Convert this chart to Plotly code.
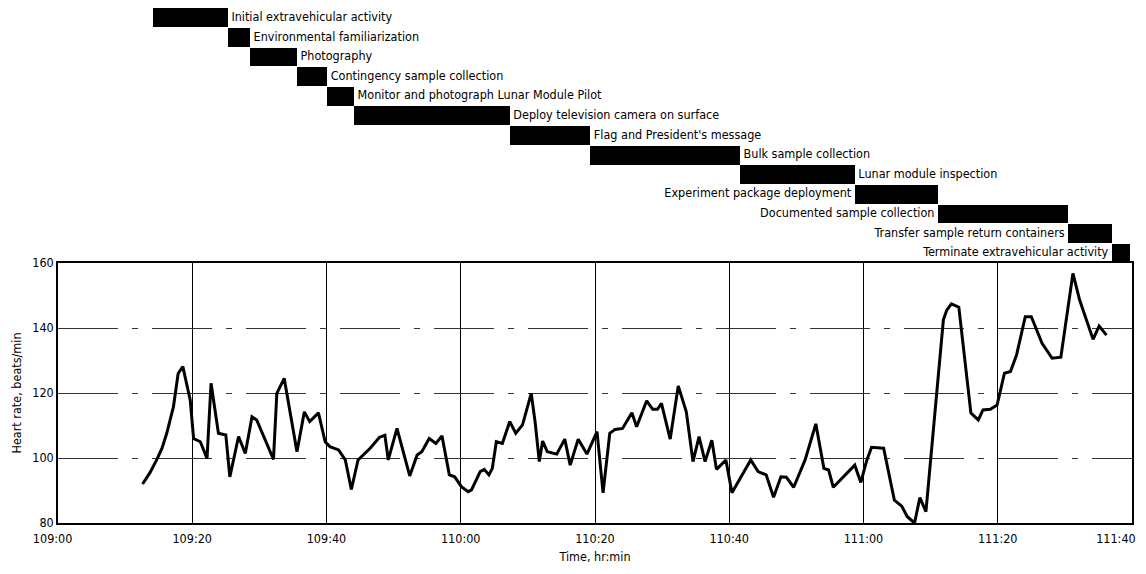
import plotly.graph_objects as go

# ---- Heart rate data (minutes after 109:00, beats/min) ----
minutes = [12.6, 13.7, 14.7, 15.5, 16.2, 17.2, 17.9, 18.6, 19.7, 20.2, 21.2, 22.2, 22.8, 23.9,
           25.0, 25.6, 26.9, 27.9, 28.9, 29.6, 32.1, 32.6, 33.7, 35.6, 36.7, 37.5, 38.8, 39.8,
           40.5, 41.8, 42.8, 43.7, 44.7, 46.5, 47.9, 48.7, 49.2, 50.5, 52.4, 53.5, 54.2, 55.3,
           56.3, 57.2, 58.3, 59.1, 60.1, 61.1, 61.6, 62.9, 63.5, 64.2, 64.7, 65.3, 66.2, 67.3,
           68.2, 69.2, 70.5, 71.1, 71.7, 72.2, 72.9, 74.3, 75.5, 76.3, 77.5, 78.8, 80.3, 81.2,
           82.2, 83.0, 84.1, 85.5, 86.2, 87.7, 88.6, 89.3, 89.9, 91.2, 92.4, 93.6, 94.6, 95.5,
           96.4, 97.4, 98.1, 99.5, 100.4, 103.2, 104.3, 105.5, 106.6, 107.7, 108.5, 109.6, 111.3,
           112.9, 114.1, 114.8, 115.5, 118.7, 119.6, 120.5, 121.2, 123.0, 124.6, 125.7, 126.5,
           127.6, 128.4, 129.3, 131.9, 132.4, 133.1, 134.2, 136.0, 137.1, 137.8, 138.9, 139.9,
           141.0, 141.9, 142.8, 144.1, 145.0, 146.6, 148.1, 149.4, 151.2, 152.2, 154.2, 155.1,
           156.2]
heart_rate = [92, 95.5, 99.4, 103, 107.6, 115.8, 126, 128.1, 117.8, 106, 105, 99.9, 123, 107.6,
              107.1, 94.2, 106.6, 101.4, 112.7, 111.7, 99.6, 119.9, 124.5, 101.9, 114.2, 111.2, 113.9, 105,
              103.5, 102.5, 99.4, 90.3, 99.4, 103, 106.4, 107, 99.4, 109.1, 94.5, 100.9, 101.9, 106,
              104.5, 106.8, 94.8, 94.2, 91.2, 89.6, 90.2, 95.8, 96.5, 94.8, 96.8, 105, 104.5, 111.2,
              107.6, 110.2, 119.9, 110.7, 98.9, 105.2, 101.9, 101.2, 105.8, 97.8, 105.8, 101.2, 108.1, 89.3,
              107.6, 108.8, 109.1, 113.9, 109.6, 117.6, 115, 115, 116.8, 105.8, 122.2, 114.2, 98.9, 106.6,
              98.9, 105.5, 96.5, 99.4, 89.3, 99.4, 95.8, 94.8, 87.9, 94.2, 94.1, 91, 99.4,
              110.5, 96.8, 96.3, 91, 97.8, 92.5, 99.4, 103.3, 103, 87, 85.2, 82,
              80, 87.8, 83.5, 142.5, 145.5, 147.4, 146.4, 113.8, 111.7, 114.8, 115, 116.3,
              126.1, 126.6, 131.7, 143.5, 143.5, 135.3, 130.7, 131, 156.8, 148.6, 136.5, 140.6,
              137.8]

# ---- Activity timeline (minutes after 109:00) ----
activities = ["Initial extravehicular activity", "Environmental familiarization", "Photography",
              "Contingency sample collection", "Monitor and photograph Lunar Module Pilot",
              "Deploy television camera on surface", "Flag and President's message",
              "Bulk sample collection", "Lunar module inspection", "Experiment package deployment",
              "Documented sample collection", "Transfer sample return containers",
              "Terminate extravehicular activity"]
act_start = [14.2, 25.3, 28.6, 35.6, 40.1, 44.1, 67.3, 79.3, 101.6, 118.7, 131.1, 150.5, 157.0]
act_end = [25.3, 28.6, 35.6, 40.1, 44.1, 67.3, 79.3, 101.6, 118.7, 131.1, 150.5, 157.0, 159.7]
label_side = ["right"] * 9 + ["left"] * 4

NB = "\u00a0"
tick_vals = [0, 20, 40, 60, 80, 100, 120, 140, 160]
tick_text = ["109:00" + NB * 3, "109:20", "109:40", "110:00", "110:20", "110:40", "111:00",
             "111:20", "111:40" + NB * 9]
y_ticks = [80, 100, 120, 140, 160]

FONT = "DejaVu Sans Condensed, Liberation Sans, sans-serif"
FS = 12.5

fig = go.Figure()

fig.add_trace(go.Scatter(x=minutes, y=heart_rate, mode="lines",
                         line=dict(color="black", width=3), xaxis="x", yaxis="y",
                         showlegend=False, hoverinfo="skip"))

rows = list(range(len(activities)))
fig.add_trace(go.Bar(y=rows, x=[e - s for s, e in zip(act_start, act_end)], base=act_start,
                     orientation="h", marker=dict(color="black", line=dict(width=0)),
                     width=0.96, xaxis="x2", yaxis="y2", showlegend=False, hoverinfo="skip"))

lab_x = [e if side == "right" else s for s, e, side in zip(act_start, act_end, label_side)]
lab_pos = ["middle right" if side == "right" else "middle left" for side in label_side]
fig.add_trace(go.Scatter(x=lab_x, y=rows, mode="text", text=[" " + a + " " for a in activities],
                         textposition=lab_pos, textfont=dict(family=FONT, size=FS, color="black"),
                         xaxis="x2", yaxis="y2", showlegend=False, hoverinfo="skip", cliponaxis=False))

split = 260 / 515
fig.update_layout(
    width=1138, height=556,
    margin=dict(l=50, r=14, t=0, b=41, autoexpand=False),
    paper_bgcolor="white", plot_bgcolor="white",
    font=dict(family=FONT, size=FS, color="black"),
    xaxis=dict(range=[0, 160], tickvals=tick_vals, ticktext=tick_text, domain=[0, 1],
               anchor="y", showgrid=True, gridcolor="black", gridwidth=1,
               showline=True, linecolor="black", linewidth=1.5, mirror=True,
               ticks="", zeroline=False, tickfont=dict(size=FS), automargin=False,
               ticklabeloverflow="allow", ticklabelstandoff=3,
               title=dict(text="Time, hr:min", font=dict(size=FS), standoff=16)),
    yaxis=dict(range=[80, 160], tickvals=y_ticks, domain=[0, split], anchor="x",
               showgrid=True, gridcolor="#333333", gridwidth=1, griddash="60px,14px,6px,14px",
               showline=True, linecolor="black", linewidth=1.5, mirror=True,
               ticks="", zeroline=False, tickfont=dict(size=FS), automargin=False,
               title=dict(text="Heart rate, beats/min", font=dict(size=FS), standoff=8)),
    xaxis2=dict(range=[0, 160], domain=[0, 1], anchor="y2", visible=False),
    yaxis2=dict(range=[12.5, -0.5], domain=[split, 1], anchor="x2", visible=False),
    bargap=0,
)

fig.write_html("out.html")
